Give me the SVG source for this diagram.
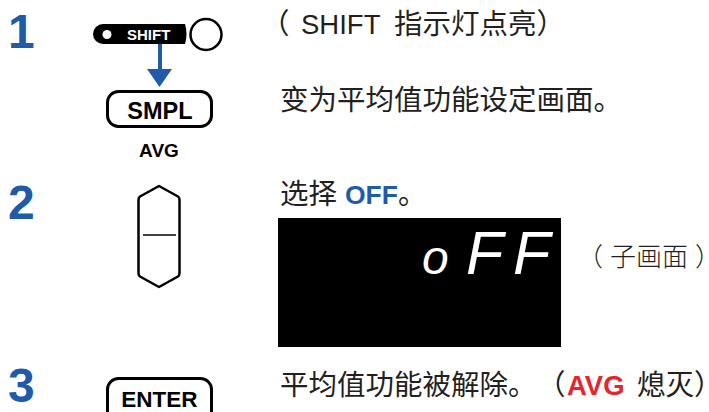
<svg xmlns="http://www.w3.org/2000/svg" width="709" height="412" viewBox="0 0 709 412">
<style>
.num{font-family:"Liberation Sans",Arial,sans-serif;font-weight:bold;font-size:48px;fill:#1f5ba8}
.txt{font-family:"Liberation Sans","Noto Sans CJK SC",sans-serif;font-size:28.5px;fill:#231f20;text-spacing-trim:space-all}
.lat{font-size:27.5px}
.half{font-feature-settings:"halt" 1}
.btn{fill:#fff;stroke:#000;stroke-width:3}
.btnlabel{font-family:"Liberation Sans",Arial,sans-serif;font-weight:bold;fill:#000;text-anchor:middle}
.blue{fill:#1f5ba8;font-weight:bold;font-size:26.5px}
.red{fill:#e5262b;font-weight:bold;font-size:27.5px}
.seg{font-family:"Liberation Sans",Arial,sans-serif;font-style:italic;fill:#fff}
.sub{font-family:"Noto Sans CJK SC",sans-serif;font-weight:300;font-size:26px;fill:#231f20;text-spacing-trim:space-all}
</style>
<rect width="709" height="412" fill="#fff"/>

<g id="step-numbers">
<text class="num" x="8" y="48">1</text>
<text class="num" x="8" y="219">2</text>
<text class="num" x="8" y="402">3</text>
</g>

<g id="shift-indicator">
<path d="M103,24 H185 Q188,34 185,44 H103 A10,10 0 0 1 103,24 Z" fill="#000"/>
<circle cx="107" cy="34.5" r="4.5" fill="#fff"/>
<text x="127" y="40" font-family="Liberation Sans,Arial,sans-serif" font-weight="bold" font-size="15" fill="#fff">SHIFT</text>
<circle cx="206" cy="34.5" r="15.5" fill="#fff" stroke="#000" stroke-width="2.5"/>
</g>

<g id="connectors">
<rect x="158" y="44" width="4" height="26" fill="#1f5ba8"/>
<polygon points="147,69 172,69 159.5,87" fill="#1f5ba8"/>
</g>

<g id="smpl-key">
<rect class="btn" x="107.5" y="91.5" width="104" height="35" rx="11"/>
<text class="btnlabel" x="160" y="118.5" font-size="23.5">SMPL</text>
<text class="btnlabel" x="159" y="157" font-size="19">AVG</text>
</g>

<g id="updown-key">
<path d="M159,186 L178,196.5 Q179.5,197.5 179.5,200 V273 Q179.5,275.5 178,276.5 L159,287 L140,276.5 Q138.5,275.5 138.5,273 V200 Q138.5,197.5 140,196.5 Z" fill="#fff" stroke="#000" stroke-width="2.5" stroke-linejoin="round"/>
<line x1="143" y1="235" x2="176" y2="235" stroke="#000" stroke-width="1.5"/>
</g>

<g id="enter-key">
<rect class="btn" x="107.5" y="378.5" width="104" height="45" rx="11"/>
<text class="btnlabel" x="159.5" y="407" font-size="22.5">ENTER</text>
</g>

<g id="step1-text">
<text class="txt" x="261" y="34">（<tspan class="lat" x="301">SHIFT</tspan> <tspan x="394">指示灯点亮）</tspan></text>
<text class="txt" x="280" y="110">变为平均值功能设定画面。</text>
</g>

<g id="step2-text">
<text class="txt" x="280" y="204">选择 <tspan class="blue" x="345">OFF</tspan>。</text>
</g>

<g id="display">
<rect x="278" y="218" width="283" height="129" fill="#000"/>
<text class="seg" y="274"><tspan x="422" font-size="48">o</tspan><tspan x="466" font-size="61">F</tspan><tspan x="513" font-size="61">F</tspan></text>
</g>

<g id="sub-screen-label">
<text class="sub" x="577" y="266">（<tspan x="610">子画面</tspan><tspan class="half" x="695">）</tspan></text>
</g>

<g id="step3-text">
<text class="txt" x="280" y="395">平均值功能被解除。<tspan x="537">（</tspan><tspan class="red" x="567">AVG</tspan> <tspan x="637">熄灭</tspan><tspan class="half" x="694">）</tspan></text>
</g>
</svg>
